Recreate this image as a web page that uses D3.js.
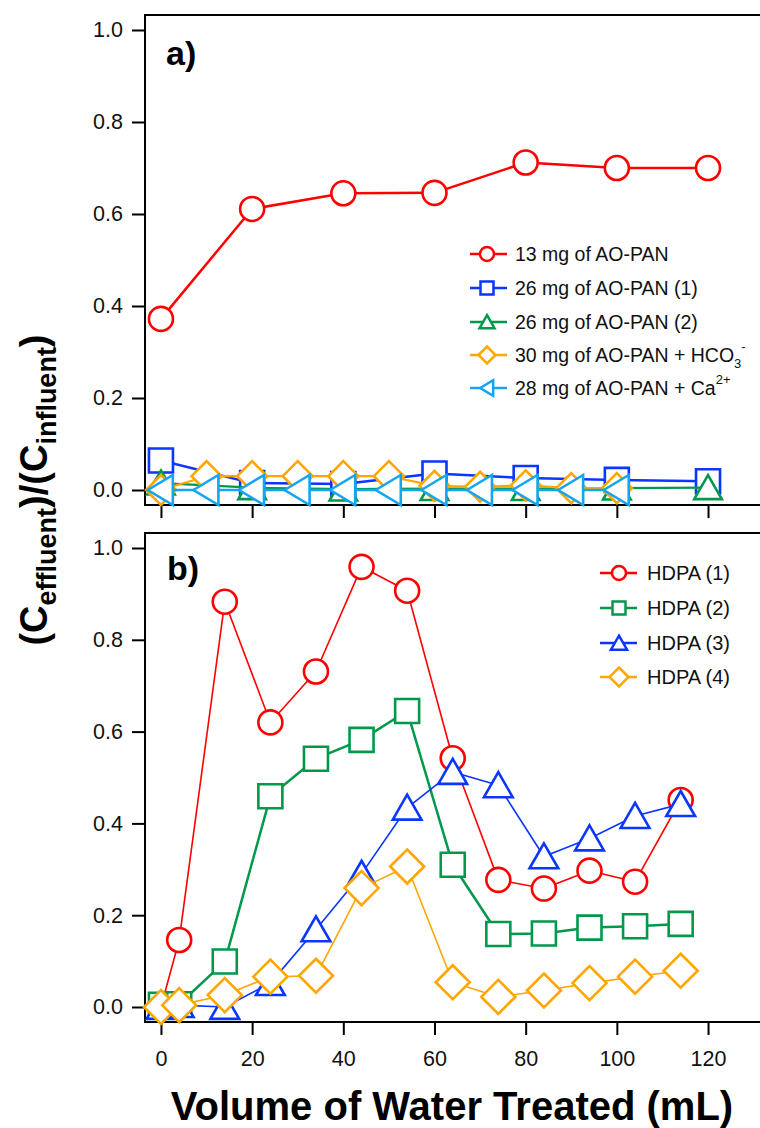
<!DOCTYPE html>
<html>
<head>
<meta charset="utf-8">
<script src="https://cdn.jsdelivr.net/npm/d3@7/dist/d3.min.js"></script>
<style>
  html, body { margin: 0; padding: 0; background: #fff; }
  svg { display: block; }
  text { font-family: "Liberation Sans", Arial, Helvetica, sans-serif; }
</style>
</head>
<body>
<svg id="chart" width="760" height="1128"></svg>
<script>
// ---------------- DATA ----------------
// Panel a)
const xA20 = [0, 20, 40, 60, 80, 100, 120];
const xA10 = [0, 10, 20, 30, 40, 50, 60, 70, 80, 90, 100];
const aoPan13 = [0.372, 0.611, 0.645, 0.646, 0.712, 0.700, 0.700];
const aoPan26a = [0.064, 0.015, 0.013, 0.036, 0.026, 0.022, 0.019];
const aoPan26b = [0.015, 0.005, 0.002, 0.003, 0.003, 0.004, 0.005];
const aoPan30HCO3 = [0.000, 0.030, 0.030, 0.030, 0.030, 0.030, 0.009, 0.007, 0.010, 0.004, 0.004];
const aoPan28Ca = [0.000, 0.000, 0.000, 0.000, 0.000, 0.000, 0.000, 0.000, 0.000, 0.000, 0.000];
const legendA = ["13 mg of AO-PAN", "26 mg of AO-PAN (1)", "26 mg of AO-PAN (2)", "30 mg of AO-PAN + HCO", "28 mg of AO-PAN + Ca"];

// Panel b)
const xB = [0, 4, 14, 24, 34, 44, 54, 64, 74, 84, 94, 104, 114];
const hdpa1 = [0.000, 0.146, 0.883, 0.620, 0.731, 0.959, 0.907, 0.542, 0.277, 0.258, 0.297, 0.273, 0.451];
const hdpa2 = [0.005, 0.006, 0.099, 0.459, 0.541, 0.582, 0.645, 0.310, 0.159, 0.160, 0.173, 0.176, 0.181];
const hdpa3 = [0.000, 0.004, 0.000, 0.052, 0.169, 0.290, 0.434, 0.512, 0.483, 0.328, 0.367, 0.416, 0.442];
const hdpa4 = [0.000, 0.004, 0.026, 0.066, 0.068, 0.259, 0.306, 0.054, 0.022, 0.036, 0.052, 0.066, 0.079];
const legendB = ["HDPA (1)", "HDPA (2)", "HDPA (3)", "HDPA (4)"];

// Axes
const xTicks = [0, 20, 40, 60, 80, 100, 120];
const yTicks = [0, 0.2, 0.4, 0.6, 0.8, 1.0];
const xTitle = "Volume of Water Treated (mL)";

// ---------------- STYLE ----------------
const RED = "#ff0000", BLUE = "#0a36ff", GREEN = "#00994c", ORANGE = "#ffa600", CYAN = "#12a6f2";

const svg = d3.select("#chart");
const left = 145, right = 760;
const x = d3.scaleLinear().domain([-3.5, 131.4]).range([left, right]);
const yA = d3.scaleLinear().domain([-0.0326, 1.0326]).range([505, 15]);
const yB = d3.scaleLinear().domain([-0.0327, 1.0327]).range([1022, 533]);

// marker path generators (centered at 0,0)
function markerPath(shape, s) {
  const p = d3.path();
  if (shape === "circle") {
    p.arc(0, 0, s, 0, 2 * Math.PI); p.closePath();
  } else if (shape === "square") {
    p.rect(-s, -s, 2 * s, 2 * s);
  } else if (shape === "triUp") {
    const w = s * 1.15, h = s;
    p.moveTo(0, -h * 1.05); p.lineTo(w, h * 0.95); p.lineTo(-w, h * 0.95); p.closePath();
  } else if (shape === "triLeft") {
    const w = s, h = s * 1.2;
    p.moveTo(-w * 1.05, 0); p.lineTo(w * 0.95, -h); p.lineTo(w * 0.95, h); p.closePath();
  } else if (shape === "diamond") {
    p.moveTo(0, -s); p.lineTo(s, 0); p.lineTo(0, s); p.lineTo(-s, 0); p.closePath();
  }
  return p.toString();
}

function drawSeries(g, xs, ys, yScale, color, lw, shape, size, mw) {
  const pts = xs.map((d, i) => [d, ys[i]]);
  g.append("path")
    .attr("d", d3.line().x(d => x(d[0])).y(d => yScale(d[1]))(pts))
    .attr("fill", "none").attr("stroke", color).attr("stroke-width", lw)
    .attr("stroke-linejoin", "round");
  g.selectAll(null).data(pts).enter().append("path")
    .attr("transform", d => `translate(${x(d[0])},${yScale(d[1])})`)
    .attr("d", markerPath(shape, size))
    .attr("fill", "#fff").attr("stroke", color).attr("stroke-width", mw)
    .attr("stroke-linejoin", "miter");
}

function frameAndAxes(yScale, top, bottom, showXLabels) {
  svg.append("path")
    .attr("d", `M${right + 5},${top}H${left}V${bottom}H${right + 5}`)
    .attr("fill", "none").attr("stroke", "#000").attr("stroke-width", 2);
  const ay = svg.append("g").attr("transform", `translate(${left},0)`)
    .call(d3.axisLeft(yScale).tickValues(yTicks).tickFormat(d3.format(".1f"))
      .tickSize(13).tickPadding(9).tickSizeOuter(0));
  ay.select(".domain").remove();
  ay.selectAll("line").attr("stroke", "#000").attr("stroke-width", 2);
  ay.selectAll("text").attr("font-size", 21.5).attr("fill", "#111")
    .style("font-family", '"Liberation Sans", Arial, sans-serif');
  const ax = svg.append("g").attr("transform", `translate(0,${bottom})`)
    .call(d3.axisBottom(x).tickValues(xTicks)
      .tickFormat(showXLabels ? d3.format("d") : () => "")
      .tickSize(13).tickPadding(16).tickSizeOuter(0));
  ax.select(".domain").remove();
  ax.selectAll("line").attr("stroke", "#000").attr("stroke-width", 2);
  ax.selectAll("text").attr("font-size", 21.5).attr("fill", "#111")
    .style("font-family", '"Liberation Sans", Arial, sans-serif');
}

// ---------------- PANEL A ----------------
frameAndAxes(yA, 15, 505, false);
const gA = svg.append("g");
drawSeries(gA, xA20, aoPan13, yA, RED, 2.5, "circle", 12, 2.6);
drawSeries(gA, xA20, aoPan26a, yA, BLUE, 2.5, "square", 12, 2.6);
drawSeries(gA, xA20, aoPan26b, yA, GREEN, 2.2, "triUp", 12, 2.6);
drawSeries(gA, xA10, aoPan30HCO3, yA, ORANGE, 2.2, "diamond", 15, 2.6);
drawSeries(gA, xA10, aoPan28Ca, yA, CYAN, 2.5, "triLeft", 12.5, 2.6);

svg.append("text").attr("x", 166).attr("y", 65).attr("font-size", 34)
  .attr("font-weight", "bold").text("a)");

// Legend A
const legA = [
  { c: RED, s: "circle", r: 7 }, { c: BLUE, s: "square", r: 6.5 },
  { c: GREEN, s: "triUp", r: 6.5 }, { c: ORANGE, s: "diamond", r: 8.5 }, { c: CYAN, s: "triLeft", r: 6.5 }
];
const legAy = [254, 288, 322, 355, 388];
legendA.forEach((lab, i) => {
  const yy = legAy[i];
  svg.append("line").attr("x1", 470).attr("x2", 507).attr("y1", yy).attr("y2", yy)
    .attr("stroke", legA[i].c).attr("stroke-width", 2.5);
  svg.append("path").attr("transform", `translate(487,${yy})`)
    .attr("d", markerPath(legA[i].s, legA[i].r))
    .attr("fill", "#fff").attr("stroke", legA[i].c).attr("stroke-width", 2.5);
  const t = svg.append("text").attr("x", 515).attr("y", yy + 7).attr("font-size", 19.5).attr("fill", "#111");
  t.append("tspan").text(lab);
  if (i === 3) {
    t.append("tspan").attr("font-size", 13).attr("dy", 6).text("3");
    t.append("tspan").attr("font-size", 13).attr("dy", -17).text("-");
  }
  if (i === 4) {
    t.append("tspan").attr("font-size", 13).attr("dy", -11).text("2+");
  }
});

// ---------------- PANEL B ----------------
frameAndAxes(yB, 533, 1022, true);
const gB = svg.append("g");
drawSeries(gB, xB, hdpa1, yB, RED, 1.6, "circle", 12, 2.6);
drawSeries(gB, xB, hdpa2, yB, GREEN, 2.5, "square", 12, 2.6);
drawSeries(gB, xB, hdpa3, yB, BLUE, 1.6, "triUp", 12.5, 2.6);
drawSeries(gB, xB, hdpa4, yB, ORANGE, 1.6, "diamond", 17, 2.6);

svg.append("text").attr("x", 167).attr("y", 580).attr("font-size", 34)
  .attr("font-weight", "bold").text("b)");

const legB = [
  { c: RED, s: "circle", r: 7 }, { c: GREEN, s: "square", r: 6.5 },
  { c: BLUE, s: "triUp", r: 7 }, { c: ORANGE, s: "diamond", r: 9.5 }
];
const legBy = [573, 608, 643, 677];
legendB.forEach((lab, i) => {
  const yy = legBy[i];
  svg.append("line").attr("x1", 600).attr("x2", 637).attr("y1", yy).attr("y2", yy)
    .attr("stroke", legB[i].c).attr("stroke-width", 2.5);
  svg.append("path").attr("transform", `translate(619,${yy})`)
    .attr("d", markerPath(legB[i].s, legB[i].r))
    .attr("fill", "#fff").attr("stroke", legB[i].c).attr("stroke-width", 2.5);
  svg.append("text").attr("x", 647).attr("y", yy + 7).attr("font-size", 20).attr("fill", "#111").text(lab);
});

// ---------------- TITLES ----------------
svg.append("text").attr("x", 452).attr("y", 1120).attr("text-anchor", "middle")
  .attr("font-size", 40).attr("font-weight", "bold").text(xTitle);

const yt = svg.append("text").attr("transform", "translate(47,490) rotate(-90)")
  .attr("text-anchor", "middle").attr("font-size", 38).attr("font-weight", "bold");
yt.append("tspan").text("(C");
yt.append("tspan").attr("font-size", 27).attr("dy", 9).text("effluent");
yt.append("tspan").attr("dy", -9).text(")/(C");
yt.append("tspan").attr("font-size", 27).attr("dy", 9).text("influent");
yt.append("tspan").attr("dy", -9).text(")");
</script>
</body>
</html>
